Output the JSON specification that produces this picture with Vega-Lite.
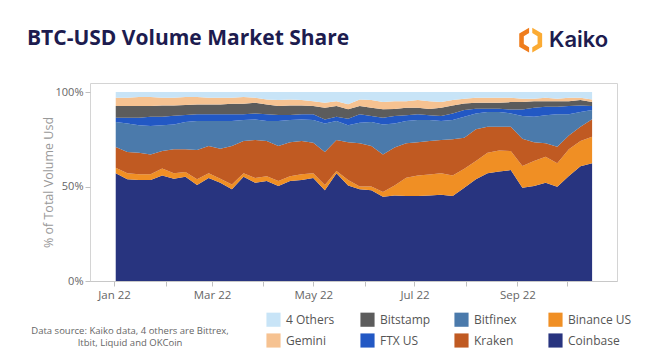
{
  "$schema": "https://vega.github.io/schema/vega-lite/v6.json",
  "width": 527,
  "height": 198,
  "autosize": {"type": "none"},
  "padding": {"left": 90, "top": 83, "right": 43, "bottom": 74},
  "background": "white",
  "config": {
    "font": "Open Sans",
    "view": {"stroke": "#d4d4d4", "strokeWidth": 1}
  },
  "title": {
    "text": "BTC-USD Volume Market Share",
    "anchor": "start",
    "frame": "group",
    "dx": -63,
    "offset": 0,
    "baseline": "bottom",
    "dy": 42,
    "font": "Open Sans",
    "fontSize": 21,
    "fontWeight": "bold",
    "color": "#1d1c4f"
  },
  "layer": [
    {
      "data": {
        "values": [
          {"date": "2022-01-02", "Coinbase": 0.570, "Binance US": 0.030, "Kraken": 0.109, "Bitfinex": 0.132, "FTX US": 0.023, "Bitstamp": 0.062, "Gemini": 0.044, "4 Others": 0.030},
          {"date": "2022-01-09", "Coinbase": 0.538, "Binance US": 0.032, "Kraken": 0.113, "Bitfinex": 0.151, "FTX US": 0.030, "Bitstamp": 0.062, "Gemini": 0.044, "4 Others": 0.030},
          {"date": "2022-01-16", "Coinbase": 0.535, "Binance US": 0.030, "Kraken": 0.114, "Bitfinex": 0.145, "FTX US": 0.040, "Bitstamp": 0.062, "Gemini": 0.048, "4 Others": 0.026},
          {"date": "2022-01-23", "Coinbase": 0.535, "Binance US": 0.030, "Kraken": 0.105, "Bitfinex": 0.150, "FTX US": 0.050, "Bitstamp": 0.056, "Gemini": 0.048, "4 Others": 0.026},
          {"date": "2022-01-30", "Coinbase": 0.559, "Binance US": 0.037, "Kraken": 0.092, "Bitfinex": 0.136, "FTX US": 0.046, "Bitstamp": 0.059, "Gemini": 0.041, "4 Others": 0.030},
          {"date": "2022-02-06", "Coinbase": 0.541, "Binance US": 0.029, "Kraken": 0.127, "Bitfinex": 0.132, "FTX US": 0.046, "Bitstamp": 0.054, "Gemini": 0.041, "4 Others": 0.030},
          {"date": "2022-02-13", "Coinbase": 0.552, "Binance US": 0.025, "Kraken": 0.120, "Bitfinex": 0.144, "FTX US": 0.037, "Bitstamp": 0.053, "Gemini": 0.043, "4 Others": 0.026},
          {"date": "2022-02-20", "Coinbase": 0.508, "Binance US": 0.030, "Kraken": 0.155, "Bitfinex": 0.154, "FTX US": 0.035, "Bitstamp": 0.052, "Gemini": 0.040, "4 Others": 0.026},
          {"date": "2022-02-27", "Coinbase": 0.545, "Binance US": 0.025, "Kraken": 0.144, "Bitfinex": 0.133, "FTX US": 0.035, "Bitstamp": 0.052, "Gemini": 0.036, "4 Others": 0.030},
          {"date": "2022-03-06", "Coinbase": 0.520, "Binance US": 0.021, "Kraken": 0.159, "Bitfinex": 0.147, "FTX US": 0.035, "Bitstamp": 0.052, "Gemini": 0.036, "4 Others": 0.030},
          {"date": "2022-03-13", "Coinbase": 0.485, "Binance US": 0.026, "Kraken": 0.203, "Bitfinex": 0.133, "FTX US": 0.035, "Bitstamp": 0.056, "Gemini": 0.032, "4 Others": 0.030},
          {"date": "2022-03-20", "Coinbase": 0.552, "Binance US": 0.018, "Kraken": 0.171, "Bitfinex": 0.111, "FTX US": 0.030, "Bitstamp": 0.056, "Gemini": 0.036, "4 Others": 0.026},
          {"date": "2022-03-27", "Coinbase": 0.520, "Binance US": 0.025, "Kraken": 0.201, "Bitfinex": 0.109, "FTX US": 0.032, "Bitstamp": 0.056, "Gemini": 0.027, "4 Others": 0.030},
          {"date": "2022-04-03", "Coinbase": 0.529, "Binance US": 0.025, "Kraken": 0.187, "Bitfinex": 0.106, "FTX US": 0.035, "Bitstamp": 0.052, "Gemini": 0.027, "4 Others": 0.039},
          {"date": "2022-04-10", "Coinbase": 0.503, "Binance US": 0.026, "Kraken": 0.185, "Bitfinex": 0.133, "FTX US": 0.031, "Bitstamp": 0.048, "Gemini": 0.032, "4 Others": 0.042},
          {"date": "2022-04-17", "Coinbase": 0.529, "Binance US": 0.025, "Kraken": 0.181, "Bitfinex": 0.117, "FTX US": 0.026, "Bitstamp": 0.051, "Gemini": 0.032, "4 Others": 0.039},
          {"date": "2022-04-24", "Coinbase": 0.535, "Binance US": 0.030, "Kraken": 0.176, "Bitfinex": 0.114, "FTX US": 0.027, "Bitstamp": 0.047, "Gemini": 0.029, "4 Others": 0.042},
          {"date": "2022-05-01", "Coinbase": 0.545, "Binance US": 0.025, "Kraken": 0.162, "Bitfinex": 0.120, "FTX US": 0.030, "Bitstamp": 0.044, "Gemini": 0.026, "4 Others": 0.048},
          {"date": "2022-05-08", "Coinbase": 0.480, "Binance US": 0.028, "Kraken": 0.175, "Bitfinex": 0.151, "FTX US": 0.021, "Bitstamp": 0.062, "Gemini": 0.026, "4 Others": 0.057},
          {"date": "2022-05-15", "Coinbase": 0.570, "Binance US": 0.012, "Kraken": 0.164, "Bitfinex": 0.101, "FTX US": 0.023, "Bitstamp": 0.056, "Gemini": 0.026, "4 Others": 0.048},
          {"date": "2022-05-22", "Coinbase": 0.505, "Binance US": 0.030, "Kraken": 0.200, "Bitfinex": 0.089, "FTX US": 0.035, "Bitstamp": 0.050, "Gemini": 0.026, "4 Others": 0.065},
          {"date": "2022-05-29", "Coinbase": 0.485, "Binance US": 0.015, "Kraken": 0.229, "Bitfinex": 0.109, "FTX US": 0.044, "Bitstamp": 0.044, "Gemini": 0.035, "4 Others": 0.039},
          {"date": "2022-06-05", "Coinbase": 0.480, "Binance US": 0.020, "Kraken": 0.214, "Bitfinex": 0.127, "FTX US": 0.032, "Bitstamp": 0.044, "Gemini": 0.041, "4 Others": 0.042},
          {"date": "2022-06-12", "Coinbase": 0.446, "Binance US": 0.025, "Kraken": 0.199, "Bitfinex": 0.159, "FTX US": 0.035, "Bitstamp": 0.045, "Gemini": 0.038, "4 Others": 0.053},
          {"date": "2022-06-19", "Coinbase": 0.453, "Binance US": 0.053, "Kraken": 0.200, "Bitfinex": 0.128, "FTX US": 0.039, "Bitstamp": 0.038, "Gemini": 0.041, "4 Others": 0.048},
          {"date": "2022-06-26", "Coinbase": 0.450, "Binance US": 0.097, "Kraken": 0.182, "Bitfinex": 0.118, "FTX US": 0.030, "Bitstamp": 0.040, "Gemini": 0.035, "4 Others": 0.048},
          {"date": "2022-07-03", "Coinbase": 0.450, "Binance US": 0.109, "Kraken": 0.176, "Bitfinex": 0.117, "FTX US": 0.030, "Bitstamp": 0.035, "Gemini": 0.041, "4 Others": 0.042},
          {"date": "2022-07-10", "Coinbase": 0.453, "Binance US": 0.111, "Kraken": 0.177, "Bitfinex": 0.111, "FTX US": 0.025, "Bitstamp": 0.034, "Gemini": 0.041, "4 Others": 0.048},
          {"date": "2022-07-17", "Coinbase": 0.457, "Binance US": 0.113, "Kraken": 0.176, "Bitfinex": 0.101, "FTX US": 0.026, "Bitstamp": 0.044, "Gemini": 0.030, "4 Others": 0.053},
          {"date": "2022-07-24", "Coinbase": 0.450, "Binance US": 0.109, "Kraken": 0.191, "Bitfinex": 0.102, "FTX US": 0.035, "Bitstamp": 0.042, "Gemini": 0.029, "4 Others": 0.042},
          {"date": "2022-07-31", "Coinbase": 0.494, "Binance US": 0.100, "Kraken": 0.164, "Bitfinex": 0.112, "FTX US": 0.035, "Bitstamp": 0.035, "Gemini": 0.024, "4 Others": 0.036},
          {"date": "2022-08-07", "Coinbase": 0.538, "Binance US": 0.097, "Kraken": 0.168, "Bitfinex": 0.084, "FTX US": 0.025, "Bitstamp": 0.031, "Gemini": 0.027, "4 Others": 0.030},
          {"date": "2022-08-14", "Coinbase": 0.570, "Binance US": 0.109, "Kraken": 0.138, "Bitfinex": 0.077, "FTX US": 0.018, "Bitstamp": 0.031, "Gemini": 0.027, "4 Others": 0.030},
          {"date": "2022-08-21", "Coinbase": 0.579, "Binance US": 0.112, "Kraken": 0.126, "Bitfinex": 0.077, "FTX US": 0.018, "Bitstamp": 0.031, "Gemini": 0.027, "4 Others": 0.030},
          {"date": "2022-08-28", "Coinbase": 0.587, "Binance US": 0.101, "Kraken": 0.129, "Bitfinex": 0.070, "FTX US": 0.021, "Bitstamp": 0.039, "Gemini": 0.023, "4 Others": 0.030},
          {"date": "2022-09-04", "Coinbase": 0.494, "Binance US": 0.115, "Kraken": 0.144, "Bitfinex": 0.120, "FTX US": 0.035, "Bitstamp": 0.039, "Gemini": 0.017, "4 Others": 0.036},
          {"date": "2022-09-11", "Coinbase": 0.503, "Binance US": 0.132, "Kraken": 0.100, "Bitfinex": 0.135, "FTX US": 0.047, "Bitstamp": 0.035, "Gemini": 0.012, "4 Others": 0.036},
          {"date": "2022-09-18", "Coinbase": 0.520, "Binance US": 0.138, "Kraken": 0.071, "Bitfinex": 0.148, "FTX US": 0.045, "Bitstamp": 0.030, "Gemini": 0.018, "4 Others": 0.030},
          {"date": "2022-09-25", "Coinbase": 0.499, "Binance US": 0.124, "Kraken": 0.088, "Bitfinex": 0.171, "FTX US": 0.040, "Bitstamp": 0.030, "Gemini": 0.012, "4 Others": 0.036},
          {"date": "2022-10-02", "Coinbase": 0.556, "Binance US": 0.141, "Kraken": 0.073, "Bitfinex": 0.112, "FTX US": 0.044, "Bitstamp": 0.026, "Gemini": 0.018, "4 Others": 0.030},
          {"date": "2022-10-09", "Coinbase": 0.608, "Binance US": 0.133, "Kraken": 0.076, "Bitfinex": 0.077, "FTX US": 0.035, "Bitstamp": 0.029, "Gemini": 0.012, "4 Others": 0.030},
          {"date": "2022-10-16", "Coinbase": 0.623, "Binance US": 0.141, "Kraken": 0.092, "Bitfinex": 0.049, "FTX US": 0.021, "Bitstamp": 0.021, "Gemini": 0.014, "4 Others": 0.039}
        ]
      },
      "transform": [
        {"fold": ["Coinbase", "Binance US", "Kraken", "Bitfinex", "FTX US", "Bitstamp", "Gemini", "4 Others"], "as": ["exchange", "share"]},
        {"calculate": "indexof(['Coinbase','Binance US','Kraken','Bitfinex','FTX US','Bitstamp','Gemini','4 Others'], datum.exchange)", "as": "stackOrder"}
      ],
      "mark": {"type": "area", "interpolate": "linear"},
      "encoding": {
        "x": {
          "field": "date",
          "type": "temporal",
          "scale": {
            "type": "utc",
            "domain": [
              {"year": 2021, "month": 12, "date": 17, "hours": 12, "utc": true},
              {"year": 2022, "month": 10, "date": 31, "utc": true}
            ]
          },
          "axis": {
            "title": null,
            "values": [
              {"year": 2022, "month": 1, "date": 1, "utc": true},
              {"year": 2022, "month": 2, "date": 1, "utc": true},
              {"year": 2022, "month": 3, "date": 1, "utc": true},
              {"year": 2022, "month": 4, "date": 1, "utc": true},
              {"year": 2022, "month": 5, "date": 1, "utc": true},
              {"year": 2022, "month": 6, "date": 1, "utc": true},
              {"year": 2022, "month": 7, "date": 1, "utc": true},
              {"year": 2022, "month": 8, "date": 1, "utc": true},
              {"year": 2022, "month": 9, "date": 1, "utc": true},
              {"year": 2022, "month": 10, "date": 1, "utc": true}
            ],
            "labelExpr": "utcmonth(datum.value) % 2 == 0 ? utcFormat(datum.value, '%b %y') : ''",
            "grid": false,
            "domain": true,
            "domainColor": "#c8c8c8",
            "tickColor": "#c0c0c0",
            "tickSize": 5,
            "labelColor": "#666666",
            "labelFontSize": 11.5,
            "labelPadding": 3,
            "labelFont": "Open Sans"
          }
        },
        "y": {
          "field": "share",
          "type": "quantitative",
          "stack": "zero",
          "scale": {"domain": [0, 1.048], "nice": false, "zero": true},
          "axis": {
            "title": "% of Total Volume Usd",
            "values": [0, 0.5, 1],
            "format": ".0%",
            "grid": false,
            "domain": false,
            "tickColor": "#c0c0c0",
            "tickSize": 5,
            "labelPadding": 2,
            "labelColor": "#666666",
            "labelFontSize": 11,
            "labelFont": "Open Sans",
            "titleColor": "#999999",
            "titleFontWeight": "normal",
            "titleFontSize": 12.5,
            "titleFont": "Open Sans",
            "titlePadding": 0
          }
        },
        "color": {
          "field": "exchange",
          "type": "nominal",
          "scale": {
            "domain": ["4 Others", "Bitstamp", "Bitfinex", "Binance US", "Gemini", "FTX US", "Kraken", "Coinbase"],
            "range": ["#c8e4f7", "#5c5c5c", "#4b7aab", "#f08f24", "#f6c291", "#2258c4", "#c05a22", "#28347f"]
          },
          "legend": {
            "orient": "none",
            "direction": "horizontal",
            "legendX": -59,
            "legendY": 229,
            "columns": 4,
            "gridAlign": "all",
            "columnPadding": 10,
            "rowPadding": 6,
            "title": ["Data source: Kaiko data, 4 others are Bittrex,", "Itbit, Liquid and OKCoin"],
            "titleOrient": "left",
            "titleAnchor": "end",
            "titleAlign": "center",
            "titleLimit": 200,
            "titleFont": "Open Sans",
            "titleFontSize": 9.5,
            "titleFontWeight": "normal",
            "titleColor": "#666666",
            "titleLineHeight": 12,
            "titlePadding": -62,
            "symbolType": "square",
            "symbolSize": 200,
            "symbolStrokeWidth": 0,
            "symbolOpacity": 1,
            "labelFont": "Open Sans",
            "labelFontSize": 12,
            "labelColor": "#555555",
            "labelOffset": 5
          }
        },
        "order": {"field": "stackOrder", "type": "quantitative"}
      }
    },
    {
      "data": {"values": [{"brand": "Kaiko"}]},
      "mark": {"type": "text", "align": "left", "baseline": "middle", "font": "Inter", "fontSize": 22, "fontWeight": 600, "color": "#1d1c4f", "clip": false},
      "encoding": {
        "text": {"field": "brand"},
        "x": {"datum": {"year": 2022, "month": 9, "date": 20, "utc": true}, "type": "temporal"},
        "y": {"datum": 1.275, "type": "quantitative"}
      }
    },
    {
      "data": {"values": [{"brand": "Kaiko"}]},
      "mark": {"type": "point", "filled": true, "opacity": 1, "color": "#ef7d1d", "size": 700, "clip": false,
        "shape": "M -0.12 -0.931 L -0.866 -0.5 L -0.866 0.5 L -0.12 0.931 L -0.12 0.531 L -0.52 0.3 L -0.52 -0.3 L -0.12 -0.531 Z"},
      "encoding": {
        "x": {"datum": {"year": 2022, "month": 9, "date": 9, "utc": true}, "type": "temporal"},
        "y": {"datum": 1.275, "type": "quantitative"}
      }
    },
    {
      "data": {"values": [{"brand": "Kaiko"}]},
      "mark": {"type": "point", "filled": true, "opacity": 1, "color": "#fbab33", "size": 700, "clip": false,
        "shape": "M 0.12 -0.931 L 0.866 -0.5 L 0.866 0.5 L 0.12 0.931 L 0.12 0.531 L 0.52 0.3 L 0.52 -0.3 L 0.12 -0.531 Z"},
      "encoding": {
        "x": {"datum": {"year": 2022, "month": 9, "date": 9, "utc": true}, "type": "temporal"},
        "y": {"datum": 1.275, "type": "quantitative"}
      }
    }
  ]
}
